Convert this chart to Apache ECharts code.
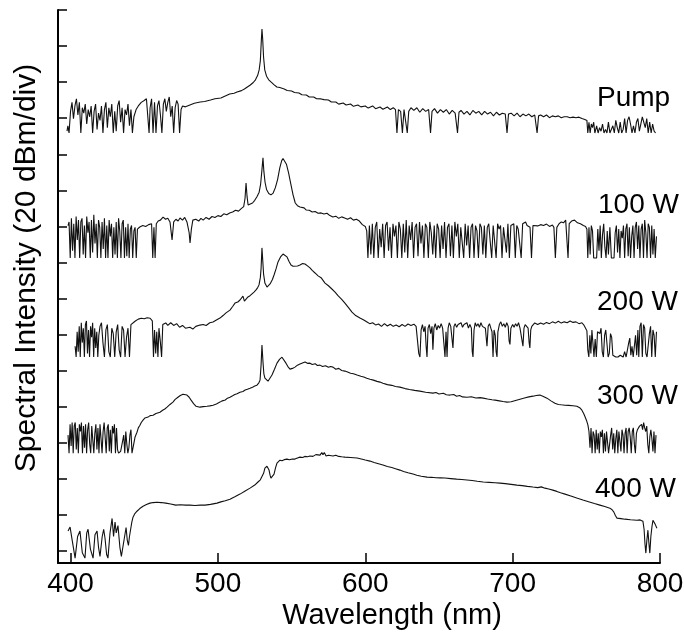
<!DOCTYPE html>
<html>
<head>
<meta charset="utf-8">
<script src="https://cdn.jsdelivr.net/npm/echarts@6/dist/echarts.min.js"></script>
<style>
html,body{margin:0;padding:0;background:#fff;}
#chart{width:684px;height:634px;}
</style>
</head>
<body>
<div id="chart"></div>
<script>
// ---- DATA ----
// x: wavelength (nm); y: level relative to each trace's noise floor (dB)
const xTicks = [400, 500, 600, 700, 800];
const yTicks = [0, 20, 40, 60, 80, 100, 120, 140, 160, 180, 200, 220, 240, 260, 280, 300];
const traceLabels = ['Pump', '100 W', '200 W', '300 W', '400 W'];
// vertical display offsets of each trace (dB)
const traceOffsets = [231.8, 162.5, 107.6, 54.3, -3.9];

const pumpPts = [[397.6,1],[398.2,4],[399,0],[400,12],[401,17],[402,8],[403,15],[404,19],[405,10],[406,17],[407,0],[408,14],[409,11],[410,16],[411,5],[412,13],[413,9],[414,15],[415,0],[416,12],[417,16],[418,2],[419,11],[420,7],[421,15],[422,0],[423,13],[424,17],[425,3],[426,14],[427,9],[428,16],[429,0],[430,12],[431,1],[432,15],[433,18],[434,6],[435,14],[436,0],[437,13],[438,10],[439,16],[440,4],[441,13],[442,0],[443,9],[444.5,13],[446,15],[448,17],[450,18],[451.5,19],[452.5,20],[453.3,0],[454,14],[455,19],[456,0],[457,17],[458,0],[459,15],[460,18],[461,10],[462,0],[463,16],[464,19],[465,12],[466,17],[467,20],[468,9],[469,15],[470,0],[471,14],[472,18],[473,16],[474,0],[475,13],[476,15],
[478,14.5],[481,15.5],[484,16.5],[488,17.2],[491,17.5],[495,18.3],[498,19],[502,19.4],[505,20.5],[508,21.6],[511,22],[513,22.7],[516,23.5],[518,24.4],[520,25.5],[522,26.6],[524,28],[525.5,29.5],[527,32],[528,35],[528.8,40],[529.4,50],[529.9,57.7],[530.4,52],[531,42],[531.8,35],[533,31.5],[534.5,29.5],[536,28.3],[538,26.8],[540,25.5],[542,25.2],[545,24.4],[547,23.6],[550,23.3],[552,22.5],[555,22.2],[557,21.2],[560,21.1],[562,20],[565,20],[567,19],[570,18.9],[572,18.5],[575,18.3],[577,17.2],[580,17.2],[582,16],[585,16.6],[587,15.5],[590,16.1],[592,14.8],[595,15.5],[597,14.5],[600,15],[602,13.8],[605,15],[607,13.5],[610,14.4],[612,13.2],[615,14.4],[617,13],[619,14],[620.5,13],
[621.5,0],[622.5,13],[624,12],[625.2,0],[626.3,13],[627.5,14],[628.5,0],[629.5,12],[631,14],[633,12.5],[635,14],[637,11.5],[639,13.5],[641,12],[643,13],[644.3,0],[645.3,12],[647,13.5],[649,11],[651,13],[653,11.5],[655,13],[657,10.5],[659,12.5],[661,11],[662.6,0],[663.6,11.5],[665,12.5],[667,10.5],[669,12],[671,10],[673,12.5],[675,11],[677,12],[679,10],[681,12],[683,10.5],[685,11.5],[687,9.5],[689,11.5],[691,10],[693,11],[695,10.5],[696.2,0],[697.2,10.5],[699,11],[701,9.5],[703,11],[705,9],[707,10.5],[709,9.5],[711,10.5],[713,9],[715,10],[716.6,0],[717.6,9.5],[719,10],[721,9],[723,10],[725,8.5],[727,9.5],[729,9],[731,9.5],[733,8.5],[735,9],[737,9],[739,8.5],[741,8.8],[743,8.5],[745,8.8],[747,8],[749,7.5],
[750.4,7],[751,0],[751.8,6],[752.6,0],[753.4,5],[754.2,3],[755,6],[755.8,0],[757,4],[758,0],[759,3],[760,1],[761,5],[762,0],[763,2],[764,0],[765,6],[766,0],[767,1],[768,4],[769,0],[770,7],[771,3],[772,0],[773,6],[774,0],[775,2],[776,8],[777,0],[778,7],[779,9],[780,5],[781,0],[782,4],[783,0],[784,6],[785,8],[786,1],[787,0],[788,9],[789,10],[790,3],[791,8],[792,0],[793,6],[794,0],[795,5],[796,1],[797,0]];

const w100Pts = [[398.3,18],[399,20],[399.8,0],[400.6,22],[401.4,4],[402.2,19],[403,0],[403.8,23],[404.6,10],[405.4,21],[406.2,0],[407,20],[407.8,22],[408.6,2],[409.4,18],[410.2,0],[411,23],[411.8,14],[412.6,20],[413.4,0],[414.2,21],[415,3],[415.8,24],[416.6,8],[417.4,19],[418.2,0],[419,21],[419.8,17],[420.6,0],[421.4,20],[422.2,5],[423,22],[423.8,0],[424.6,18],[425.4,0],[426.2,21],[427,12],[427.8,19],[428.6,0],[429.4,17],[430.2,2],[431,20],[431.8,0],[432.6,22],[433.4,15],[434.2,0],[435,19],[435.8,21],[436.6,0],[437.4,17],[438.2,1],[439,19],[439.8,0],[440.6,16],[441.4,18],[442.2,0],[443,15],[443.8,17],[444.6,0],[445.4,16],
[447,17.2],[449,18],[451,17.5],[453,18.5],[455,19],[455.8,0],[456.6,17],[457.4,0],[458.2,19],[459.5,20.5],[461,21],[462.8,22.7],[464.5,21.5],[466,22],[467.5,20],[468.9,10],[470,20],[471.5,21.5],[473,20.5],[474.3,22.2],[476,21],[477.5,22.5],[479,20],[480.5,14],[481.1,8.3],[482,16],[483,21],[485,21.5],[487,20.5],[488.5,22],[490,21],[492,22.5],[494,21.5],[496,23],[498,22.5],[500,23.5],[502,23],[504,24.5],[506,24],[508,25],[510,25.5],[512,26.5],[514,26],[516,27.5],[517.5,28.5],[518.4,33],[519.1,41.6],[519.8,34],[520.5,29.4],[522,30],[523.5,30.5],[525,32],[526.5,34],[528,36.5],[529,41],[529.9,49],[530.6,55.5],[531.2,48],[532,42],[533,38],[534.5,35.8],[536,35],[537.5,36],[539,39],[540.5,43.5],[542,50],[543.3,54],[544.2,55.2],[545.2,54.5],[546.5,52],[548,47],[549.5,41],[551,35],[552.5,30.5],[554,29],[555.7,28.3],[557,27.5],[558.5,27.8],[560,26.6],[562,26.5],[564,25.5],[566,25.8],[568,24.8],[570,25],[572,24.4],[574,24.8],[576,23.5],[578,22.7],[580,23.2],[582,22],[584,22.8],[586,22.2],[588,21.5],[590,22.3],[592,21],[594,21.5],[596,20.5],[598,18.5],[600,17.5],[601,15],
[601.8,0],[602.8,18],[603.8,2],[604.8,19],[605.8,0],[606.8,17],[607.8,20],[608.8,0],[609.8,16],[610.8,6],[611.8,19],[612.8,0],[613.8,18],[614.8,20],[615.8,4],[616.8,17],[617.8,0],[618.8,19],[619.8,12],[620.8,18],[621.8,0],[622.8,20],[623.8,16],[624.8,0],[625.8,19],[626.8,3],[627.8,21],[628.8,0],[629.8,18],[630.8,10],[631.8,20],[632.8,0],[633.8,17],[634.8,19],[635.8,1],[636.8,20],[637.8,8],[638.8,18],[639.8,0],[640.8,19],[641.8,17],[642.8,0],[643.8,20],[644.8,14],[645.8,2],[646.8,18],[647.8,0],[648.8,19],[649.8,16],[650.8,0],[651.8,18],[652.8,5],[653.8,20],[654.8,0],[655.8,17],[656.8,19],[657.8,1],[658.8,18],[659.8,0],[660.8,20],[661.8,12],[662.8,19],[663.8,0],[664.8,17],[665.8,18],[666.8,0],[667.8,19],[668.8,7],[669.8,18],[670.8,0],[671.8,17],[672.8,19],[673.8,0],[674.8,18],[675.8,15],[676.8,0],[677.8,19],[678.8,17],[679.8,2],[680.8,18],[681.8,0],[682.8,17],[683.8,19],[684.8,9],[685.8,0],[686.8,18],[687.8,17],[688.8,0],[689.8,19],[690.8,16],[691.8,18],[692.8,0],[693.8,17],[694.8,18],[695.8,3],[696.8,19],[697.8,0],[698.8,18],[699.8,17],[700.8,19],[701.8,0],[702.8,18],[703.8,16],[704.8,17],[705.8,0],[706.8,19],[707.8,18],[708.8,20],[709.8,18],[710.8,19],[711.8,17],[712.8,0],[713.8,18],[715,18.5],[717,17.8],[719,18.5],[721,18],[723,18.8],[725,17.5],[727,18.3],[728,17],[729,0],[730,17],[731.5,19],[733,20],[734.5,19.5],[736,21],[737,20],[737.6,0],[738.4,19],[740,20.5],[742,21],[744,19.5],[746,19],[748,18],[749.5,17.5],[750.4,16],
[751,0],[751.8,17],[752.6,2],[753.4,18],[754.2,15],[755,0],[756,0],[757,0],[757.8,16],[758.6,4],[759.4,18],[760.2,0],[761,13],[761.8,19],[762.6,6],[763.4,0],[764.2,15],[765,2],[766,17],[767,0],[767.8,0],[768.8,0],[769.6,14],[770.4,18],[771.2,3],[772,16],[772.8,0],[773.6,15],[774.4,11],[775.2,18],[776,0],[776.8,16],[777.6,19],[778.4,1],[779.2,17],[780,0],[780.8,12],[781.6,18],[782.4,0],[783.2,17],[784,20],[784.8,5],[785.6,18],[786.4,0],[787.2,16],[788,19],[788.8,0],[789.6,21],[790.4,14],[791.2,0],[792,19],[792.8,17],[793.6,0],[794.4,18],[795.2,2],[796,16],[796.8,0],[797.6,12]];

const w200Pts = [[403.1,6],[403.8,0],[404.5,14],[405.2,3],[405.9,17],[406.6,0],[407.3,19],[408,8],[408.7,16],[409.4,0],[410.1,18],[410.8,20],[411.5,2],[412.2,15],[412.9,0],[413.6,17],[414.3,11],[415,19],[415.7,0],[416.4,16],[417.1,5],[417.8,14],[418.5,0],[419.2,12],[420,17],[421,19],[422,8],[423,0],[424,15],[425,18],[426,3],[427,0],[428,16],[429,13],[430,0],[431,14],[432,18],[433,4],[434,0],[435,17],[436,15],[437,0],[438,11],[439,16],[440,0],[441,18],[442,17],
[444,20],[446,21],[448,21.5],[450,21.2],[452,21.8],[454,21.5],[455.5,20],[456.3,0],[457,15],[457.8,2],[458.5,14],[459.3,0],[460,16],[461,8],[461.8,0],[462.6,18],[464.6,18.9],[466,17.5],[468,19],[470,17.5],[472,18.5],[474,16.5],[476,17.5],[478,16],[481,16.5],[483,15.5],[485,17],[487.8,17.7],[490,18],[492,17.5],[494.5,19],[496.7,19.4],[499,20.5],[501.4,21.6],[503.5,23],[505.5,24.5],[508.2,26],[510,28],[511.6,29.9],[513.5,30.5],[515,31.6],[516,30.8],[517,33.8],[518,31],[518.8,31.6],[520.4,33.3],[521.8,34],[523.1,35],[524.5,36],[525.9,37.2],[527,38.5],[527.9,40],[528.8,44],[529.3,49],[529.9,60.5],[530.4,54],[531,46],[531.9,41],[533.3,38.8],[534.5,39.2],[535.4,40.5],[537,43],[538.1,45.5],[539.5,49],[540.8,52.7],[542.5,55.5],[544.2,57.1],[545.5,56.8],[546.9,55.5],[548.3,53],[549.6,51],[551,50.3],[552.3,50],[554,50.5],[555.7,51],[557.5,51.8],[559.1,51.6],[560.8,50.5],[562.5,49.4],[564,48],[565.9,46.6],[568,45],[570,44],[572.7,41],[575,39.5],[577,38],[579.5,36],[581.5,34],[584,32],[586.2,29.9],[588.5,27.5],[591,24.9],[593.5,23],[596.4,21.6],[599,20.5],[601.2,19.4],[603,18.5],[605,19],[607,17.8],[609,18.3],[611,17],[613,18.5],[615,17.2],[617,18.2],[619,17],[621,17.7],[623,16.8],[625,18],[627,17],[629,18.3],[631,17.5],[633,18.2],[634.5,17],
[635.5,16],[636.3,2],[637.1,0],[637.9,15],[638.8,18],[639.7,14],[640.6,17],[641.3,6],[641.9,0],[642.6,16],[643.5,18],[644.4,13],[645.3,17],[645.9,4],[646.6,16],[647.5,18.5],[648.5,15],[649.5,17.5],[650.5,16],[651.5,18.5],[652.5,16],[653.4,15],[654.1,0],[654.8,14],[655.5,0],[656.2,16],[657,19],[658,17],[658.8,16],[659.5,5],[660.2,17],[661,18.5],[662,16.5],[663,18],[664,17],[665,19],[666,16.5],[667,18],[668,17.5],[669,19],[670,16],[671,18],[672,16],[672.6,3],[673.1,0],[673.8,15],[674.6,19],[675.5,17],[676.5,18.5],[677.5,16.5],[678.5,19],[679.5,17],[680.5,18],[681.5,16],[682.6,6],[683.4,17],[684.3,18.5],[685.2,16],[686,14],[686.7,0],[687.4,15],[688.2,12],[688.8,3],[689.4,0],[690,14],[691,18],[692,19.5],[693,17],[694,18.5],[695,16.5],[696,19],[697,17],[697.6,9],[698.2,7],[698.8,16],[700,18],[701,16.5],[702,18.5],[703,17],[704,19],[705,16],[706,17],[707,6],[707.7,16],[708.5,18],[709.5,17],[710.5,16],[711.2,8],[711.7,5],[712.3,15],[713,17],[713.8,16],[715,18.9],[717,18],[719,18.9],[721,18.2],[723,19.2],[725,18.5],[727,19.5],[729,18.8],[731,19.8],[733,18.8],[735,19.5],[737,19],[739,20],[741,19.2],[743,19.5],[745,18.5],[747,19],[748.5,17.5],[749.5,16],[750.4,14.5],
[751,4],[751.7,0],[752.4,12],[753.1,2],[753.8,15],[754.5,16],[755.2,0],[756,10],[756.8,0],[757.6,14],[758.4,15],[759.2,13],[760,16],[760.8,3],[761.6,0],[762.4,12],[763.2,15],[764,14],[764.8,0],[765.6,2],[766.4,13],[767.2,11],[768,1],[768.8,0],[770,0],[771.5,0],[773,1],[774,0],[775,0],[776,3],[777,0],[778,0],[778.8,8],[779.5,10.5],[780.2,1],[781,6],[781.8,0],[782.6,0],[783.4,12],[784.2,1],[785,15],[785.6,0],[786.4,17],[787.2,19],[788,0],[788.8,18],[789.6,16],[790.4,2],[791.2,0],[792,0],[792.8,13],[793.6,17],[794.4,0],[795.2,15],[796,12],[796.8,0],[797.6,14]];

const w300Pts = [[398.3,10],[399,0],[399.7,16],[400.4,4],[401.1,17],[401.8,0],[402.5,15],[403.2,17],[403.9,2],[404.6,14],[405.3,0],[406,16],[406.7,12],[407.4,17],[408.1,0],[408.8,15],[409.5,3],[410.2,16],[410.9,0],[411.6,13],[412.3,17],[413,5],[413.7,0],[414.4,15],[415.1,16],[415.8,0],[416.5,11],[417.2,16],[417.9,2],[418.6,14],[419.3,0],[420,16],[420.7,15],[421.4,0],[422.1,12],[422.8,17],[423.5,9],[424.2,0],[424.9,14],[425.6,16],[426.3,1],[427,13],[427.7,0],[428.4,15],[429.1,11],[429.8,16],[430.5,0],[431.2,14],[431.9,2],[432.6,0],[433.3,0],[434,1],[434.7,0],[435.4,7],[436.1,10],[436.8,0],[437.5,12],[438.2,5],[438.9,0],[439.6,3],[440.3,10],[441,13],[441.7,0],[442.4,0],[443.1,6],[443.8,9],[444.5,10],
[445.1,11.6],[446,14],[447.1,15.5],[448,17],[449.2,18.3],[450.5,19.5],[452.6,20],[454,20.8],[456,21],[458,22],[460.7,22.7],[462.5,23.8],[464,24.5],[465.5,25.5],[467.5,27],[469.5,28.3],[471,29.8],[472.9,31],[474.5,32],[476.3,32.7],[477.5,33],[479,32.2],[480.5,31],[481.8,29.4],[483.5,27.5],[485.2,26],[486.5,25.6],[487.8,25.5],[490,25.8],[492.6,26],[494.5,26.2],[496.7,26.6],[499,27.3],[501.4,28.3],[503,29],[505,29.5],[506.5,30.5],[508.2,31],[510,31.8],[511.5,32.5],[513,33],[515,33.8],[517,34.2],[518.5,35],[520,35.4],[521.8,36],[523.5,36.6],[525,37.2],[526.5,37.7],[527.8,39],[528.6,40.5],[529.3,48.8],[529.9,59.9],[530.6,50.5],[531.2,44],[531.9,41.6],[533,40.5],[534,39.9],[535.3,41],[536.7,43.3],[538.4,46.5],[540.1,49.9],[541.8,52],[543.5,53.2],[544.8,52.5],[546.2,49.9],[547.5,48],[548.9,46.6],[550.6,47],[552.3,47.7],[554,48.8],[555.7,49.4],[557.4,50],[559.1,50.5],[560.8,49.8],[562.5,49.9],[564,49.2],[566,49.6],[567.5,48.6],[569.3,48.8],[571,48],[573,48.5],[575,47.6],[576.5,48],[578.1,47.7],[580,46.5],[582,47],[584,45.8],[586.2,45.5],[588,45],[590,44.3],[592,44],[594.4,43.3],[597,42.6],[599,42.2],[601,41.5],[603.2,41],[605.5,40.5],[608,39.8],[610,39.4],[612,38.8],[615,38],[618,37.6],[620.5,37],[623.5,36.6],[627,35.8],[630,35.3],[633.5,34.8],[637,34.4],[641,33.8],[645.9,33.3],[648,33.6],[650,32.8],[653,33.2],[655,32.4],[657.5,32.2],[660,32.5],[662,31.6],[664,32],[666,31.2],[669,31],[672,31.3],[675,30.6],[678,30.8],[680,30.5],[683,30],[686,29.6],[688.1,29.4],[691,29],[693.5,28.6],[696.2,28.3],[699,28.5],[702,29.2],[705,29.9],[708,30.6],[711,31.2],[713.8,31.6],[716,32],[718.5,32.2],[720.5,31.6],[723.3,30.5],[726,29],[728.7,27.7],[731,27],[733,26.8],[735.5,26.6],[738,26.5],[741,26.3],[743.6,26],[745.5,25.2],[747,23.8],[748.2,22],[749,20.5],[750.2,18],[751.1,15.5],
[751.8,12],[752.5,3],[753.2,14],[753.9,0],[754.6,12],[755.3,10],[756,0],[756.7,13],[757.4,2],[758.1,11],[758.8,0],[759.5,12],[760.2,9],[760.9,13],[761.6,0],[762.3,11],[763,1],[763.7,12],[764.4,13],[765.1,0],[765.8,0],[766.5,10],[767.2,14],[767.9,2],[768.6,11],[769.3,0],[770,8],[770.7,13],[771.4,0],[772.1,12],[772.8,11],[773.5,1],[774.2,13],[774.9,10],[775.6,0],[776.3,11],[777,14],[777.7,0],[778.4,12],[779.1,14],[779.8,9],[780.5,0],[781.2,12],[781.9,14],[782.6,5],[783.3,0],[784,11],[784.7,13],[785.4,12],[786.1,15],[786.8,14],[787.5,16],[788.2,13],[788.9,17],[789.6,14],[790.3,12],[791,15],[791.7,5],[792.4,0],[793.1,9],[793.8,13],[794.5,8],[795.2,1],[795.9,12],[796.6,0],[797.3,10]];

const w400Pts = [[398.3,15],[399.7,17.2],[401.5,8],[403.1,0],[404.8,12],[406.4,15],[408,3],[409.8,0],[411,14],[411.9,16],[413.5,5],[415.3,0],[416.6,13],[418,15],[419,6],[420,1],[421.5,12],[422.5,16],[423.4,11],[424.5,2],[425.4,0],[426.8,14],[428.2,22],[429.2,12],[430.2,20],[431,14],[432.2,18],[433.5,6],[434.5,1],[435.6,0],[436.7,12],[437.7,17],[438.5,10],[439.3,7],[440,12],[440.8,16],[441.6,20],
[442.4,22.7],[443.5,24.5],[445.1,26],[447,27.5],[449.2,28.8],[451.5,29.7],[453.9,30.5],[456,30.8],[458.7,31],[461.5,30.8],[464.6,30.5],[468,30],[471.4,29.4],[474.5,29.6],[478,29.4],[481,29.4],[484.5,29.2],[488,29.4],[491.3,29.4],[495,29.8],[499.4,30.5],[502,31.2],[505,31.8],[508.2,32.7],[511.5,34],[515,35.5],[518.5,37.2],[521.8,38.8],[525,40.5],[527.2,42.2],[528.8,43.4],[529.9,44.4],[531,47],[531.9,49.9],[532.6,51],[533.3,51],[534,50],[534.7,48.8],[535.4,46],[536,44.4],[537,44.7],[538.1,46.6],[539.1,50],[540.1,52.7],[541.1,53.8],[542.1,54.3],[543.5,54],[545,54.6],[546.9,54.9],[548.5,54.5],[550.5,55],[552.3,54.9],[554,55.5],[555.7,56],[557.5,55.8],[559,56.4],[560.8,56.2],[562.5,56.6],[564.5,56.4],[566.5,57.4],[567.8,56.6],[569.3,57.1],[570.5,58.5],[571.3,57.3],[572.2,58.6],[573.4,56.6],[575,57],[578.1,56.6],[580,57],[582,56.4],[584,56.2],[586.2,56],[590,55.8],[594.4,55.5],[598,54.8],[600,54.4],[603.2,53.8],[606,53],[609,52.3],[612,51.6],[615,50.8],[618,50.2],[620.5,49.6],[623.5,48.8],[626,48],[629,47.3],[632.4,46.6],[635,46],[638,45.4],[641.9,44.9],[645,44.8],[648,44.6],[651,44.5],[654.1,44.4],[658,44.1],[662,43.8],[665.5,43.6],[669,43.3],[672.5,43],[676,42.6],[680,42.2],[684,42],[688,41.8],[691.4,41.6],[695,41.3],[699,40.9],[702.9,40.5],[706.5,40.2],[710,39.8],[713.8,39.4],[717,39.1],[719.5,39.5],[721.9,38.8],[724.5,38.3],[727.3,37.7],[730,37],[732.5,36.2],[735.5,35.5],[739.5,34.5],[743.5,33.3],[747.7,32.2],[751.5,31.3],[755.5,30.3],[759.2,29.4],[762.5,28.6],[766,27.7],[767.5,26.8],[768.7,25.5],[769.8,23.5],[770.8,22.2],[773.5,21.9],[776.2,21.6],[780,21.3],[784.3,21],[786.5,21.2],[788.4,20.5],[789.2,16],[789.8,8],[790.4,2.8],[791.1,10],[791.8,15.5],[792.5,8],[793.1,2.8],[793.8,12],[794.5,17.2],[795.2,21],[795.9,21.5],[796.6,19],[797.2,18.9],[797.9,16.6]];

const traces = [pumpPts, w100Pts, w200Pts, w300Pts, w400Pts];

// ---- CHART ----
const chart = echarts.init(document.getElementById('chart'), null, {renderer: 'canvas'});
const FONT = '"Liberation Sans", Arial, Helvetica, sans-serif';

const series = traces.map((pts, i) => ({
  type: 'line',
  name: traceLabels[i],
  data: pts.map(p => [p[0], p[1] + traceOffsets[i]]),
  showSymbol: false,
  symbol: 'none',
  smooth: false,
  lineStyle: {color: '#111', width: 1.1},
  itemStyle: {color: '#111'},
  emphasis: {disabled: true},
  animation: false
}));

const labelPos = [[597, 98], [598, 205], [597, 302], [597, 396], [595, 489]];

const option = {
  backgroundColor: '#fff',
  animation: false,
  grid: {left: 58, right: 24, top: 10, bottom: 71, containLabel: false, outerBoundsMode: 'none'},
  xAxis: {
    type: 'value', min: 391.5, max: 800,
    axisLine: {show: true, onZero: false, lineStyle: {color: '#000', width: 2}},
    axisTick: {show: true, inside: true, length: 10, customValues: xTicks, lineStyle: {color: '#000', width: 1.5}},
    axisLabel: {show: true, customValues: xTicks, color: '#000', fontFamily: FONT, fontSize: 28, margin: 7},
    splitLine: {show: false}
  },
  yAxis: {
    type: 'value', min: -6.6, max: 300,
    axisLine: {show: true, onZero: false, lineStyle: {color: '#000', width: 2}},
    axisTick: {show: true, inside: true, length: 9, customValues: yTicks, lineStyle: {color: '#000', width: 1.5}},
    axisLabel: {show: false},
    splitLine: {show: false}
  },
  series: series,
  graphic: [
    {type: 'text', x: 392, y: 616, style: {text: 'Wavelength (nm)', font: '29px ' + FONT, fill: '#000', align: 'center', verticalAlign: 'middle'}},
    {type: 'text', x: 27, y: 268, rotation: Math.PI / 2, style: {text: 'Spectral Intensity (20 dBm/div)', font: '30px ' + FONT, fill: '#000', align: 'center', verticalAlign: 'middle'}}
  ].concat(traceLabels.map((t, i) => ({
    type: 'text', x: labelPos[i][0], y: labelPos[i][1],
    style: {text: t, font: '28px ' + FONT, fill: '#000', align: 'left', verticalAlign: 'middle'}
  })))
};
chart.setOption(option);
</script>
</body>
</html>
